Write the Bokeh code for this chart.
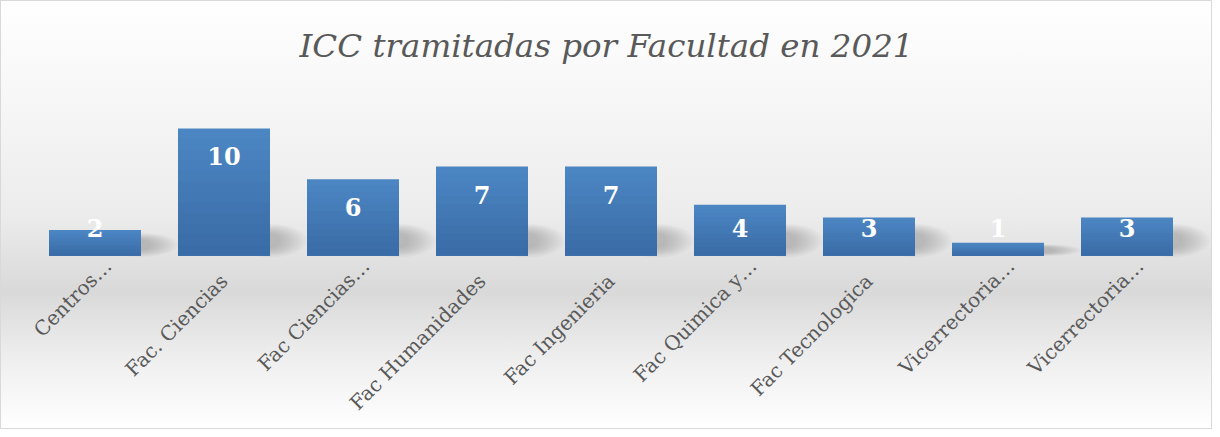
import math
from bokeh.plotting import figure
from bokeh.models import Range1d, ColumnDataSource
from bokeh.core.properties import value
from bokeh.embed import file_html
from bokeh.resources import INLINE

# ---- data ----
categories = ["Centros…", "Fac. Ciencias", "Fac Ciencias…", "Fac Humanidades",
              "Fac Ingenieria", "Fac Quimica y…", "Fac Tecnologica",
              "Vicerrectoria…", "Vicerrectoria…"]
counts = [2, 10, 6, 7, 7, 4, 3, 1, 3]
title_text = "ICC tramitadas por Facultad en 2021"

# ---- derived positions / styling ----
positions = list(range(len(categories)))
BAR_W = 0.713
PX_X = 129.0   # px per category
PX_Y = 12.7    # px per unit
label_y = [max(v - 2.2, 2.13) for v in counts]
# truncated labels (ending in an ellipsis) sit slightly further along the diagonal
lab_xoff = [13 if c.endswith("…") else 0 for c in categories]
lab_yoff = [7 if c.endswith("…") else 22 for c in categories]

src = ColumnDataSource(dict(x=positions, count=counts, ly=label_y,
                            lbl=[str(v) for v in counts],
                            cat=categories, zero=[0] * len(counts),
                            xo=lab_xoff, yo=lab_yoff))

p = figure(width=1212, height=429, output_backend="svg", toolbar_location=None,
           x_range=Range1d(-0.5 - 30 / PX_X, len(categories) - 0.5 + 21 / PX_X),
           y_range=Range1d(-174 / PX_Y, 186 / PX_Y),
           x_axis_location=None, y_axis_location=None,
           title=title_text,
           min_border_left=0, min_border_right=0,
           min_border_top=69, min_border_bottom=0)

p.background_fill_alpha = 0
p.border_fill_alpha = 0
p.outline_line_color = None
p.styles = {
    "background": "linear-gradient(to bottom, #ffffff 0%, #f7f7f7 22%, #ececec 50%, #d9d9d9 68%, #efefef 84%, #ffffff 100%)",
    "outline": "1px solid #d9d9d9",
    "outline-offset": "-1px",
}

p.title.text_font = "DejaVu Serif"
p.title.text_font_style = "italic"
p.title.text_font_size = "32.5px"
p.title.text_color = "#595959"
p.title.align = "center"
p.title.standoff = 10
p.title.offset = -10

p.xgrid.visible = False
p.ygrid.visible = False

# soft shadows to the right of each bar (many faint layers)
sh_h = [min(v, 2.8) for v in counts]
for k in range(10):
    w = 74 - k * 6
    s = 1 - k * 0.06
    p.ellipse(x=[x + BAR_W / 2 for x in positions],
              y=[h * 0.42 for h in sh_h],
              width=w, height=[h * 0.95 * s for h in sh_h], width_units="screen",
              fill_color="black", fill_alpha=0.02, line_color=None)

# bars with vertical gradient (nested bars, top colour -> bottom colour)
top_c = (0x4b, 0x86, 0xc2)
bot_c = (0x3a, 0x6c, 0xa7)
N = 12
for k in range(N):
    t = k / (N - 1)
    c = tuple(round(top_c[i] + (bot_c[i] - top_c[i]) * t) for i in range(3))
    frac = 1 - k / N
    p.vbar(x=positions, top=[v * frac for v in counts], bottom=0, width=BAR_W,
           fill_color="#%02x%02x%02x" % c, line_color=None)

# value labels
p.text(x="x", y="ly", text="lbl", source=src,
       text_align="center", text_baseline="middle",
       text_font=value("DejaVu Serif"), text_font_style="bold",
       text_font_size="24px", text_color="white")

# rotated category labels
p.text(x="x", y="zero", text="cat", source=src, angle=math.pi / 4,
       x_offset="xo", y_offset="yo",
       text_align="right", text_baseline="alphabetic",
       text_font=value("DejaVu Serif"), text_font_size="20px",
       text_color="#595959")

open("out.html", "w").write(file_html(p, INLINE))
